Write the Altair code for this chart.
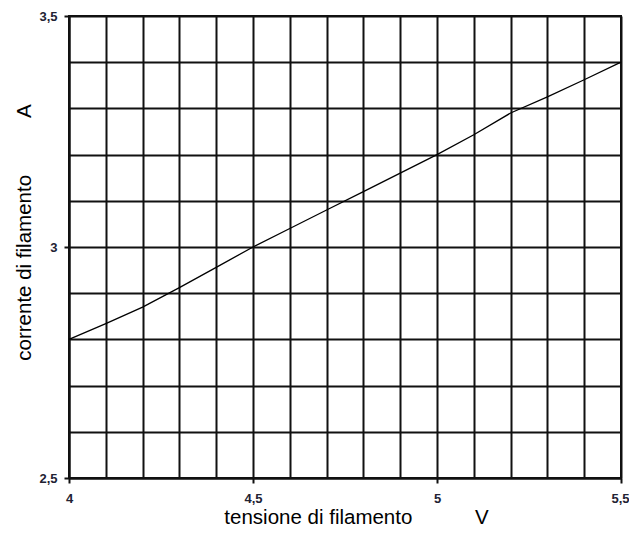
import altair as alt
import pandas as pd

# Data
tensione = [4.0, 4.1, 4.2, 4.3, 4.4, 4.5, 4.6, 4.7, 4.8, 4.9, 5.0, 5.1, 5.2, 5.3, 5.4, 5.5]
corrente = [2.80, 2.834, 2.870, 2.912, 2.956, 3.00, 3.04, 3.08, 3.12, 3.16, 3.20, 3.243, 3.290, 3.325, 3.362, 3.40]

# Grid / tick positions
x_grid = [4.0, 4.1, 4.2, 4.3, 4.4, 4.5, 4.6, 4.7, 4.8, 4.9, 5.0, 5.1, 5.2, 5.3, 5.4, 5.5]
y_grid = [2.5, 2.6, 2.7, 2.8, 2.9, 3.0, 3.1, 3.2, 3.3, 3.4, 3.5]

df = pd.DataFrame({"tensione": tensione, "corrente": corrente})

NB = "\u00a0"
x_title = "tensione di filamento" + NB * 11 + "V"
y_title = "corrente di filamento" + NB * 10 + "A"

is_major = "abs(datum.value * 2 - round(datum.value * 2)) < 0.001"
label_expr = f"({is_major}) ? replace(toString(round(datum.value * 10) / 10), '.', ',') : ''"

common = dict(
    grid=True,
    gridColor="#111111",
    gridWidth=2,
    gridOpacity=1,
    domain=True,
    domainColor="#111111",
    domainWidth=2,
    ticks=True,
    tickColor="#111111",
    tickWidth=2,
    tickSize=5,
    tickOpacity={"condition": {"test": is_major, "value": 1}, "value": 0},
    labelExpr=label_expr,
    labelFont="Liberation Sans",
    labelFontSize=13,
    labelFontWeight="bold",
    labelColor="#222233",
    labelFlush=False,
    labelOverlap=False,
    titleFont="Liberation Sans",
    titleFontSize=20.5,
    titleFontWeight="normal",
    titleColor="#000000",
    titleBaseline="alphabetic",
    titleAlign="center",
)

x_axis = alt.Axis(
    values=x_grid,
    labelPadding=9,
    labelOffset={"condition": {"test": "datum.value > 5.45", "value": -1}, "value": 0},
    title=x_title,
    titleX=287,
    titleY=45.5,
    **common,
)

y_axis = alt.Axis(
    values=y_grid,
    labelPadding=7,
    title=y_title,
    titleAngle=-90,
    titleX=-39,
    titleY=216,
    **common,
)

chart = (
    alt.Chart(df)
    .mark_line(color="#000000", strokeWidth=1.3)
    .encode(
        x=alt.X("tensione:Q", scale=alt.Scale(domain=[4.0, 5.5], nice=False, zero=False), axis=x_axis),
        y=alt.Y("corrente:Q", scale=alt.Scale(domain=[2.5, 3.5], nice=False, zero=False), axis=y_axis),
    )
    .properties(
        width=552,
        height=462,
        autosize=alt.AutoSizeParams(type="none"),
        padding={"left": 61, "top": 8, "right": 8, "bottom": 50},
        background="#ffffff",
    )
    .configure_view(stroke="#111111", strokeWidth=2)
)

chart.save("out.html", embed_options={"renderer": "svg", "actions": False})
